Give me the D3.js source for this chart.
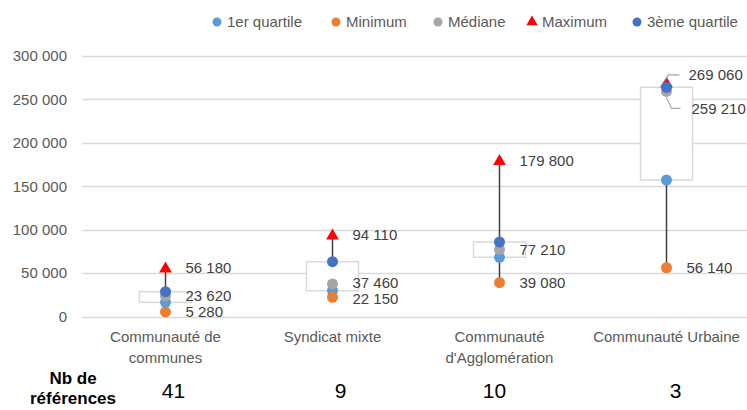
<!DOCTYPE html>
<meta charset="utf-8">
<style>
body { margin: 0; background: #fff; }
svg { display: block; font-family: "Liberation Sans", "DejaVu Sans", sans-serif; }
.grid line { stroke: #d9d9d9; stroke-width: 1.3px; }
.tick-label { fill: #595959; font-size: 15px; }
.cat-label { fill: #595959; font-size: 15px; }
.data-label { fill: #404040; font-size: 15px; }
.legend text { fill: #595959; font-size: 15px; }
</style>
<svg width="747" height="410"></svg>
<script src="https://d3js.org/d3.v7.min.js"></script>
<script>

// data
var categories = ["Communauté de communes", "Syndicat mixte", "Communauté d'Agglomération", "Communauté Urbaine"];
var categoryLines = [["Communauté de", "communes"], ["Syndicat mixte"], ["Communauté", "d'Agglomération"], ["Communauté Urbaine"]];
var minimum = [5280, 22150, 39080, 56140];
var q1 = [16300, 29700, 68200, 157200];
var median = [23620, 37460, 77210, 259210];
var q3 = [28600, 63100, 85800, 264000];
var maximum = [56180, 94110, 179800, 269060];
var counts = [41, 9, 10, 3];
var yTicks = [0, 50000, 100000, 150000, 200000, 250000, 300000];

var seriesNames = ["1er quartile", "Minimum", "Médiane", "Maximum", "3ème quartile"];
var seriesValues = [q1, minimum, median, maximum, q3];
var seriesColors = ["#5b9bd5", "#ed7d31", "#a5a5a5", "#ff0000", "#4472c4"];

var svg = d3.select("svg");

var fr = d3.formatLocale({decimal: ",", thousands: "\u00a0", grouping: [3], currency: ["", " €"]});
var fmt = fr.format(",d");

var x = d3.scaleBand().domain(categories).range([82, 750]);
var y = d3.scaleLinear().domain([0, 300000]).range([316.5, 56]);

// grid
svg.append("g").attr("class", "grid")
  .selectAll("line").data(yTicks).enter().append("line")
    .attr("x1", 82).attr("x2", 747)
    .attr("y1", function(d) { return Math.round(y(d)) + 0.5; })
    .attr("y2", function(d) { return Math.round(y(d)) + 0.5; });

svg.append("g").selectAll("text").data(yTicks).enter().append("text")
    .attr("class", "tick-label")
    .attr("x", 67).attr("y", function(d) { return y(d); })
    .attr("dy", "0.35em").attr("text-anchor", "end")
    .text(function(d) { return fmt(d); });

var cx = function(i) { return x(categories[i]) + x.bandwidth() / 2; };

// whiskers min -> max
svg.append("g").selectAll("line").data(categories).enter().append("line")
    .attr("x1", function(d, i) { return cx(i); })
    .attr("x2", function(d, i) { return cx(i); })
    .attr("y1", function(d, i) { return y(minimum[i]); })
    .attr("y2", function(d, i) { return y(maximum[i]); })
    .attr("stroke", "#404040").attr("stroke-width", 1.5);

// boxes q1 -> q3
svg.append("g").selectAll("rect").data(categories).enter().append("rect")
    .attr("x", function(d, i) { return cx(i) - 26; })
    .attr("width", 52)
    .attr("y", function(d, i) { return y(q3[i]); })
    .attr("height", function(d, i) { return y(q1[i]) - y(q3[i]); })
    .attr("fill", "#fff").attr("stroke", "#d9d9d9").attr("stroke-width", 1.5);

// markers
var tri = d3.symbol().type(d3.symbolTriangle).size(70);
seriesValues.forEach(function(vals, s) {
  var g = svg.append("g");
  if (s === 3) {
    g.selectAll("path").data(vals).enter().append("path")
      .attr("d", tri)
      .attr("transform", function(d, i) { return "translate(" + cx(i) + "," + (y(d) + 1) + ")"; })
      .attr("fill", seriesColors[s]);
  } else {
    g.selectAll("circle").data(vals).enter().append("circle")
      .attr("cx", function(d, i) { return cx(i); })
      .attr("cy", function(d) { return y(d); })
      .attr("r", 5.5)
      .attr("fill", seriesColors[s]);
  }
});

// data labels (min, median, max)
var labelSeries = [minimum, median, maximum];
labelSeries.forEach(function(vals, s) {
  vals.forEach(function(v, i) {
    var lx = cx(i) + 20, ly = y(v);
    // last category: max and median overlap, pushed apart with leader lines
    if (i === 3 && s === 2) {
      lx = cx(i) + 22; ly = y(v) - 8;
      svg.append("path").attr("d", "M" + (cx(i) - 2) + "," + (y(v) - 2) + "L" + (cx(i) + 2) + "," + ly + "H" + (cx(i) + 13))
        .attr("fill", "none").attr("stroke", "#a6a6a6").attr("stroke-width", 1.2);
    }
    if (i === 3 && s === 1) {
      lx = cx(i) + 25; ly = y(v) + 17;
      svg.append("path").attr("d", "M" + cx(i) + "," + (y(v) + 6) + "L" + (cx(i) + 5) + "," + ly + "H" + (cx(i) + 14))
        .attr("fill", "none").attr("stroke", "#a6a6a6").attr("stroke-width", 1.2);
    }
    // Syndicat mixte: median and minimum labels sit very close
    if (i === 1 && s === 1) ly -= 1;
    if (i === 1 && s === 0) ly += 1;
    svg.append("text").attr("class", "data-label")
      .attr("x", lx).attr("y", ly).attr("dy", "0.35em")
      .text(fmt(v));
  });
});

// category labels
svg.append("g").selectAll("text").data(categoryLines).enter().append("text")
    .attr("class", "cat-label")
    .attr("text-anchor", "middle")
    .attr("x", function(d, i) { return cx(i); })
    .attr("y", 338)
    .each(function(lines, i) {
      d3.select(this).selectAll("tspan").data(lines).enter().append("tspan")
        .attr("x", cx(i))
        .attr("dy", function(l, j) { return j ? 21 : 0; })
        .attr("dominant-baseline", "middle")
        .text(function(l) { return l; });
    });

// counts
svg.append("text").attr("x", 73).attr("y", 380).attr("text-anchor", "middle")
    .attr("dominant-baseline", "middle")
    .style("font-size", "17px").style("font-weight", "bold").text("Nb de");
svg.append("text").attr("x", 73).attr("y", 400).attr("text-anchor", "middle")
    .attr("dominant-baseline", "middle")
    .style("font-size", "17px").style("font-weight", "bold").text("références");
var countOffsets = [8, 8, -5, 9];
svg.append("g").selectAll("text").data(counts).enter().append("text")
    .attr("x", function(d, i) { return cx(i) + countOffsets[i]; })
    .attr("y", 392)
    .attr("text-anchor", "middle").attr("dominant-baseline", "middle")
    .style("font-size", "21px")
    .text(function(d) { return d; });

// legend
var legendX = [217, 336, 438, 532, 637];
var legend = svg.append("g").attr("class", "legend");
seriesNames.forEach(function(name, s) {
  if (s === 3) {
    legend.append("path").attr("d", d3.symbol().type(d3.symbolTriangle).size(55))
      .attr("transform", "translate(" + legendX[s] + ",22)").attr("fill", seriesColors[s]);
  } else {
    legend.append("circle").attr("cx", legendX[s]).attr("cy", 22).attr("r", 4.5).attr("fill", seriesColors[s]);
  }
  legend.append("text").attr("x", legendX[s] + 10).attr("y", 22).attr("dy", "0.35em").text(name);
});

</script>
